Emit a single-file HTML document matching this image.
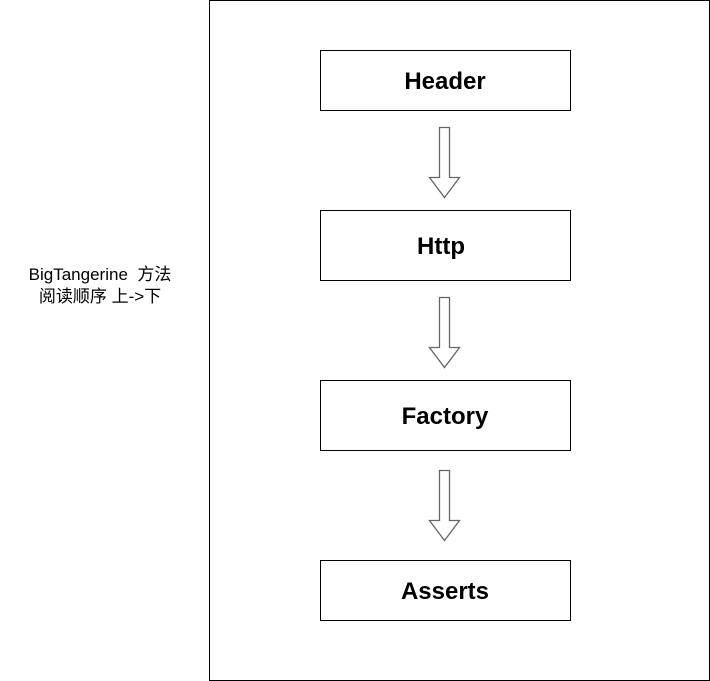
<!DOCTYPE html>
<html><head><meta charset="utf-8"><style>
html,body{margin:0;padding:0;background:#fff;width:710px;height:681px;overflow:hidden}
</style></head><body>
<svg width="710" height="681" xmlns="http://www.w3.org/2000/svg">
<rect x="209.5" y="0.5" width="500" height="680" fill="#fff" stroke="#000"/>
<g fill="#fff" stroke="#000">
<rect x="320.5" y="50.5" width="250" height="60"/>
<rect x="320.5" y="210.5" width="250" height="70"/>
<rect x="320.5" y="380.5" width="250" height="70"/>
<rect x="320.5" y="560.5" width="250" height="60"/>
</g>
<g fill="#fff" stroke="#000" stroke-opacity="0.6" stroke-width="1.3">
<path d="M439.5 127.5 H449.5 V177.5 H459.5 L444.5 197.5 L429.5 177.5 H439.5 Z"/>
<path d="M439.5 297.5 H449.5 V347.5 H459.5 L444.5 367.5 L429.5 347.5 H439.5 Z"/>
<path d="M439.5 470.5 H449.5 V520.5 H459.5 L444.5 540.5 L429.5 520.5 H439.5 Z"/>
</g>
<g font-family="Liberation Sans, sans-serif" font-weight="bold" font-size="24" text-anchor="middle">
<text x="445" y="89">Header</text>
<text x="441" y="254">Http</text>
<text x="445" y="424">Factory</text>
<text x="445" y="599">Asserts</text>
</g>
<g font-family="Liberation Sans, Noto Sans CJK SC, sans-serif" font-size="17" text-anchor="middle">
<text x="100" y="280">BigTangerine&#160; 方法</text>
<text x="100" y="302">阅读顺序 上-&gt;下</text>
</g>
</svg>
</body></html>
